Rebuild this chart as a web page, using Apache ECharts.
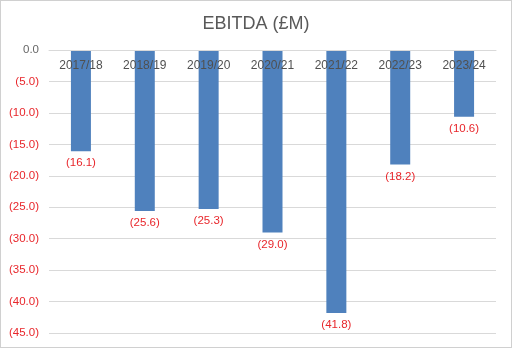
<!DOCTYPE html>
<html><head><meta charset="utf-8">
<script src="https://cdn.jsdelivr.net/npm/echarts@6/dist/echarts.min.js"></script>
<style>html,body{margin:0;padding:0;background:#fff}#c{width:510px;height:346px;border:1px solid #d0d0d0}</style>
</head><body><div id="c"></div>
<script>
const categories = ['2017/18','2018/19','2019/20','2020/21','2021/22','2022/23','2023/24'];
const ebitda = [-16.1, -25.6, -25.3, -29.0, -41.8, -18.2, -10.6];
const title = 'EBITDA (£M)';
const fmt = v => v === 0 ? '0.0' : '(' + Math.abs(v).toFixed(1) + ')';
const chart = echarts.init(document.getElementById('c'));
chart.setOption({
  animation: false,
  title: {text: title, left: 'center', top: 9, textStyle: {fontFamily: 'Liberation Sans', fontSize: 18, fontWeight: 'normal', color: '#595959'}},
  grid: {left: 48, right: 15, top: 49, bottom: 14},
  xAxis: {type: 'category', data: categories, position: 'top', z: 10,
    axisLine: {lineStyle: {color: '#d9d9d9'}}, axisTick: {show: false},
    axisLabel: {inside: true, margin: 10, color: '#505050', fontFamily: 'Liberation Sans', fontSize: 12}},
  yAxis: {type: 'value', min: -45, max: 0, interval: 5,
    axisLine: {show: false}, axisTick: {show: false},
    splitLine: {lineStyle: {color: '#d9d9d9'}},
    axisLabel: {formatter: fmt, margin: 10, fontFamily: 'Liberation Sans', fontSize: 11.5,
      color: v => (Number(v) === 0 ? '#666666' : '#e8262b')}},
  series: [{type: 'bar', data: ebitda, barWidth: 20, z: 1, itemStyle: {color: '#4f81bd'},
    label: {show: true, position: 'bottom', distance: 6, formatter: p => fmt(p.value), color: '#e8262b', fontFamily: 'Liberation Sans', fontSize: 11.5}}]
});
</script></body></html>
